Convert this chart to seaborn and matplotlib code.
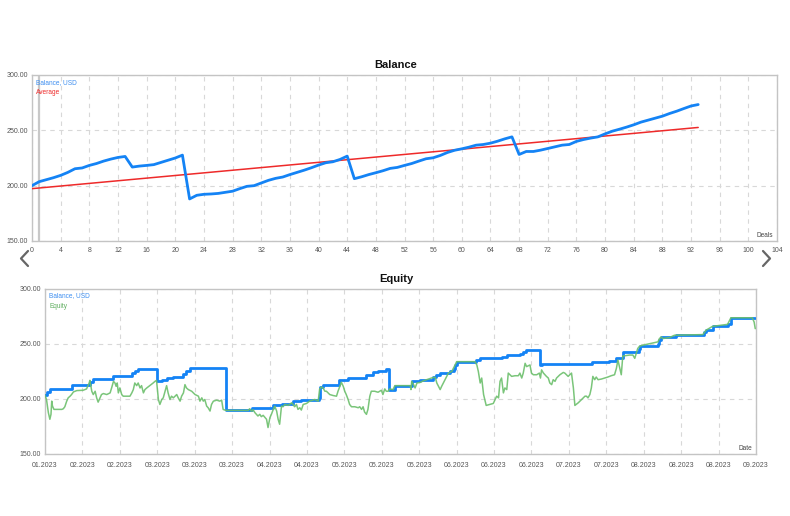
import matplotlib
matplotlib.use("Agg")
import matplotlib.pyplot as plt
from matplotlib.lines import Line2D
import numpy as np
import pandas as pd
import seaborn as sns

# ---- Balance chart (by deal number) ----
deals = list(range(94))
balance = [200.0, 203.6, 205.4, 207.2, 209.3, 212.0, 215.3, 216.0, 218.3, 220.0,
           222.2, 224.0, 225.5, 226.4, 216.8, 217.7, 218.3, 219.0, 221.0, 223.0,
           225.0, 227.6, 188.0, 191.3, 192.2, 192.5, 193.0, 194.0, 195.0, 197.3,
           199.4, 200.0, 202.4, 204.8, 206.6, 207.8, 210.0, 212.0, 214.0, 216.2,
           218.6, 220.7, 221.6, 223.7, 226.7, 206.3, 208.0, 210.0, 211.7, 213.5,
           215.6, 216.5, 218.3, 220.0, 222.2, 224.3, 225.2, 227.3, 230.0, 232.0,
           233.3, 234.8, 236.6, 237.2, 238.4, 240.2, 242.3, 244.1, 228.2, 230.9,
           230.9, 232.1, 233.6, 235.1, 236.6, 237.2, 240.0, 241.7, 243.0, 244.1,
           246.8, 249.2, 251.0, 252.9, 255.0, 257.4, 259.2, 261.0, 262.8, 265.2,
           267.3, 269.7, 272.0, 273.3]
avg_deals = [0, 93]
avg_values = [197.3, 252.6]
deal_ticks = list(range(0, 105, 4))

# ---- Equity chart (x in date-tick units) ----
date_labels = ["01.2023", "02.2023", "02.2023", "03.2023", "03.2023", "03.2023",
               "04.2023", "04.2023", "05.2023", "05.2023", "05.2023", "06.2023",
               "06.2023", "06.2023", "07.2023", "07.2023", "08.2023", "08.2023",
               "08.2023", "09.2023"]

bal_t = [0.00, 0.06, 0.13, 0.71, 1.20, 1.29, 1.83, 2.32, 2.40, 2.49,
         3.00, 3.12, 3.25, 3.43, 3.70, 3.78, 3.87, 4.83, 5.52, 6.10,
         6.32, 6.63, 6.85, 7.32, 7.34, 7.43, 7.86, 8.10, 8.59, 8.77,
         8.90, 9.12, 9.19, 9.35, 9.80, 10.03, 10.38, 10.45, 10.56, 10.83,
         10.92, 10.96, 11.00, 11.52, 11.63, 12.20, 12.34, 12.69, 12.78, 12.85,
         13.24, 13.27, 14.63, 15.07, 15.27, 15.44, 15.87, 15.89, 16.38, 16.42,
         16.47, 16.85, 17.62, 17.66, 17.84, 18.24, 18.33, 18.98]
bal_v = [203.0, 206.0, 209.0, 212.6, 215.0, 218.0, 220.7, 222.8, 224.6, 226.8,
         215.6, 217.0, 218.6, 220.0, 222.0, 224.8, 227.5, 189.2, 191.6, 193.7,
         194.6, 197.6, 199.0, 200.6, 210.5, 212.0, 216.5, 218.6, 221.6, 223.7,
         224.6, 226.6, 208.0, 211.7, 215.6, 217.0, 219.2, 221.0, 223.0, 225.0,
         226.6, 230.5, 233.5, 235.0, 236.5, 238.0, 239.5, 240.4, 242.5, 244.0,
         230.5, 231.4, 233.0, 234.0, 236.5, 242.0, 244.6, 247.6, 250.0, 253.0,
         256.0, 258.0, 260.5, 262.0, 265.6, 267.4, 273.4, 273.4]

eq_t = [0.00, 0.04, 0.09, 0.13, 0.16, 0.18, 0.20, 0.24, 0.45, 0.49, 0.53, 0.58,
        0.62, 0.67, 0.71, 0.76, 0.85, 1.02, 1.11, 1.18, 1.20, 1.25, 1.29, 1.34,
        1.38, 1.42, 1.47, 1.51, 1.56, 1.65, 1.74, 1.78, 1.83, 1.87, 1.90, 1.93,
        1.96, 2.00, 2.05, 2.09, 2.27, 2.32, 2.36, 2.40, 2.45, 2.49, 2.54, 2.58,
        2.63, 2.67, 2.72, 2.80, 2.89, 2.94, 2.98, 3.03, 3.07, 3.12, 3.16, 3.21,
        3.25, 3.29, 3.34, 3.38, 3.43, 3.52, 3.56, 3.61, 3.65, 3.70, 3.74, 3.78,
        3.83, 3.92, 4.01, 4.10, 4.14, 4.19, 4.23, 4.27, 4.32, 4.36, 4.41, 4.45,
        4.50, 4.59, 4.67, 4.72, 4.76, 4.83, 5.43, 5.47, 5.52, 5.56, 5.61, 5.65,
        5.69, 5.74, 5.78, 5.83, 5.92, 5.96, 6.01, 6.05, 6.10, 6.14, 6.19, 6.23,
        6.27, 6.32, 6.36, 6.41, 6.50, 6.59, 6.63, 6.67, 6.72, 6.76, 6.81, 6.85,
        6.90, 6.99, 7.07, 7.21, 7.30, 7.34, 7.39, 7.43, 7.48, 7.52, 7.61, 7.70,
        7.79, 7.83, 7.88, 7.92, 7.97, 8.01, 8.05, 8.10, 8.14, 8.19, 8.28, 8.37,
        8.41, 8.46, 8.50, 8.54, 8.59, 8.63, 8.68, 8.72, 8.81, 8.90, 8.99, 9.03,
        9.08, 9.12, 9.17, 9.21, 9.30, 9.35, 9.76, 9.78, 9.80, 9.85, 9.89, 9.94,
        10.03, 10.12, 10.20, 10.38, 10.43, 10.47, 10.56, 10.60, 10.69, 10.78, 10.87, 10.96,
        11.00, 11.49, 11.54, 11.58, 11.63, 11.67, 11.72, 11.79, 11.89, 11.98, 12.07, 12.12,
        12.16, 12.20, 12.25, 12.29, 12.34, 12.38, 12.47, 12.56, 12.65, 12.69, 12.74, 12.78,
        12.83, 12.87, 12.96, 13.00, 13.05, 13.14, 13.21, 13.24, 13.27, 13.32, 13.40, 13.45,
        13.49, 13.54, 13.58, 13.63, 13.67, 13.76, 13.85, 13.89, 13.98, 14.07, 14.12, 14.16,
        14.25, 14.34, 14.43, 14.47, 14.51, 14.56, 14.60, 14.64, 14.69, 14.73, 14.78, 14.87,
        14.96, 15.04, 15.13, 15.22, 15.27, 15.31, 15.36, 15.40, 15.43, 15.44, 15.62, 15.71,
        15.76, 15.80, 15.84, 15.89, 15.98, 16.38, 16.42, 16.47, 16.51, 16.69, 16.82, 17.58,
        17.66, 17.84, 18.24, 18.33, 18.90, 18.95, 18.98]
eq_v = [203.0, 199.1, 187.1, 181.1, 185.6, 197.6, 193.1, 190.1, 190.1, 190.7, 192.5, 197.6,
        200.6, 202.1, 203.6, 206.0, 207.2, 207.5, 208.7, 214.1, 216.5, 206.6, 203.6, 206.6,
        200.6, 196.7, 200.6, 203.6, 204.5, 203.6, 205.1, 209.6, 215.6, 214.1, 211.1, 214.1,
        205.1, 209.6, 203.6, 202.1, 202.1, 205.1, 208.1, 214.1, 211.7, 214.1, 209.6, 211.7,
        205.1, 208.1, 209.6, 211.7, 214.1, 215.6, 216.5, 199.1, 194.6, 199.1, 200.6, 206.6,
        211.7, 205.1, 199.1, 202.1, 200.6, 203.6, 200.6, 197.6, 202.1, 205.1, 212.6, 209.6,
        208.1, 206.6, 203.6, 202.1, 197.6, 200.6, 197.6, 199.1, 193.1, 191.6, 188.6, 194.6,
        197.6, 198.5, 197.6, 198.5, 190.1, 189.2, 189.2, 190.7, 188.3, 189.8, 187.1, 185.6,
        184.1, 185.6, 183.5, 184.7, 181.1, 173.6, 182.6, 185.6, 190.1, 193.1, 188.6, 181.1,
        176.6, 193.1, 192.5, 194.6, 193.7, 196.1, 194.6, 192.5, 194.6, 190.1, 191.6, 189.5,
        194.6, 195.5, 197.6, 199.1, 197.6, 208.7, 210.5, 209.6, 206.6, 206.6, 203.6, 202.7,
        202.1, 206.6, 211.1, 214.7, 211.1, 206.6, 203.6, 199.1, 194.6, 192.5, 192.5, 191.6,
        192.5, 190.1, 192.5, 187.7, 185.6, 190.1, 202.1, 206.6, 206.6, 205.7, 207.5, 203.6,
        208.7, 206.6, 206.6, 208.7, 208.1, 211.7, 211.7, 208.1, 215.6, 212.6, 209.6, 214.1,
        214.7, 216.2, 217.1, 219.2, 219.2, 214.1, 208.1, 211.1, 217.1, 223.1, 224.6, 230.5,
        233.5, 233.5, 230.5, 224.6, 214.1, 218.6, 203.6, 193.7, 194.6, 195.5, 202.1, 200.6,
        215.6, 218.6, 205.1, 209.6, 208.1, 223.1, 220.1, 220.7, 220.7, 223.1, 218.6, 223.1,
        232.0, 229.0, 230.5, 223.1, 221.6, 221.6, 223.1, 218.6, 226.0, 223.1, 220.1, 218.6,
        214.1, 212.6, 217.1, 215.6, 218.6, 221.6, 223.7, 223.1, 220.1, 223.1, 209.6, 193.7,
        196.1, 199.1, 202.1, 202.1, 200.6, 203.6, 209.6, 220.1, 217.1, 219.5, 217.1, 217.7,
        218.6, 219.5, 220.7, 221.6, 227.5, 235.0, 227.5, 221.6, 233.5, 238.6, 239.5, 239.5,
        236.5, 241.0, 245.5, 247.6, 248.5, 251.5, 254.5, 256.0, 254.5, 255.4, 257.5, 258.1,
        262.0, 265.6, 267.4, 273.4, 273.4, 269.5, 263.5]

y_ticks = [150, 200, 250, 300]

BLUE = "#1483f5"
RED = "#ee2a2a"
GREEN = "#6cbf6c"
GRID = "#d8d8d8"
FRAME = "#c4c4c4"
TXT = "#555555"

sns.set_style("white")
plt.rcParams["font.family"] = ["Liberation Sans", "DejaVu Sans"]

fig = plt.figure(figsize=(7.9, 5.16), dpi=100)
W, H = 790.0, 516.0


def box(l, t, r, b):
    return [l / W, 1 - b / H, (r - l) / W, (b - t) / H]


def style_axes(ax):
    for s in ax.spines.values():
        s.set_color(FRAME)
        s.set_linewidth(1.0)
    ax.grid(True, color=GRID, linestyle=(0, (4, 4)), linewidth=0.8)
    ax.set_axisbelow(True)
    ax.tick_params(length=0, labelsize=5, labelcolor=TXT)
    ax.set_ylim(150, 300)
    ax.set_yticks(y_ticks)
    ax.set_yticklabels(["%.2f" % v for v in y_ticks])
    ax.set_xlabel("")
    ax.set_ylabel("")


# Balance
ax1 = fig.add_axes(box(32, 75, 777, 241))
ax1.axvline(1, color="#c8c8c8", lw=1.6, zorder=1)
df_bal = pd.DataFrame({"deal": deals, "balance": balance})
df_avg = pd.DataFrame({"deal": avg_deals, "avg": avg_values})
sns.lineplot(data=df_avg, x="deal", y="avg", color=RED, lw=1.1, ax=ax1, zorder=3)
sns.lineplot(data=df_bal, x="deal", y="balance", color=BLUE, lw=2.0, ax=ax1, zorder=4)
ax1.set_xlim(0, 104)
ax1.set_xticks(deal_ticks)
style_axes(ax1)
ax1.tick_params(axis="x", pad=4)
ax1.tick_params(axis="y", pad=3)
ax1.text(4 / 745, 1 - 7.5 / 166, "Balance, USD", transform=ax1.transAxes,
         color="#3d8ef0", fontsize=4.7, va="center", ha="left")
ax1.text(4 / 745, 1 - 17.5 / 166, "Average", transform=ax1.transAxes,
         color=RED, fontsize=4.7, va="center", ha="left")
ax1.text(1 - 4 / 745, 5.5 / 166, "Deals", transform=ax1.transAxes,
         color="#444444", fontsize=4.7, va="center", ha="right")

# Equity
ax2 = fig.add_axes(box(45, 288.5, 756, 453.5))
df_bs = pd.DataFrame({"t": bal_t, "v": bal_v})
df_eq = pd.DataFrame({"t": eq_t, "v": eq_v})
sns.lineplot(data=df_bs, x="t", y="v", color=BLUE, lw=2.0, drawstyle="steps-post",
             estimator=None, sort=False, ax=ax2, zorder=3)
sns.lineplot(data=df_eq, x="t", y="v", color=GREEN, lw=1.1, alpha=0.9,
             estimator=None, sort=False, ax=ax2, zorder=4)
ax2.set_xlim(0, len(date_labels) - 1)
ax2.set_xticks(range(len(date_labels)))
ax2.set_xticklabels(date_labels)
style_axes(ax2)
ax2.tick_params(axis="x", pad=6)
ax2.tick_params(axis="y", pad=3)
ax2.text(4 / 711, 1 - 7 / 165, "Balance, USD", transform=ax2.transAxes,
         color="#3d8ef0", fontsize=4.7, va="center", ha="left")
ax2.text(4 / 711, 1 - 17.5 / 165, "Equity", transform=ax2.transAxes,
         color="#5fae5f", fontsize=4.7, va="center", ha="left")
ax2.text(1 - 4 / 711, 5.5 / 165, "Date", transform=ax2.transAxes,
         color="#444444", fontsize=4.7, va="center", ha="right")

# titles
fig.text(396 / W, 1 - 68 / H, "Balance", ha="center", va="baseline",
         fontsize=8, fontweight="bold", color="#111111")
fig.text(396 / W, 1 - 282 / H, "Equity", ha="center", va="baseline",
         fontsize=8, fontweight="bold", color="#111111")

# navigation chevrons
for xs in ([28, 21, 28], [763, 770, 763]):
    fig.add_artist(Line2D([x / W for x in xs], [1 - 251 / H, 1 - 258.5 / H, 1 - 266 / H],
                          color="#666666", lw=1.6, transform=fig.transFigure))

fig.savefig("out.png", dpi=100, facecolor="white")
